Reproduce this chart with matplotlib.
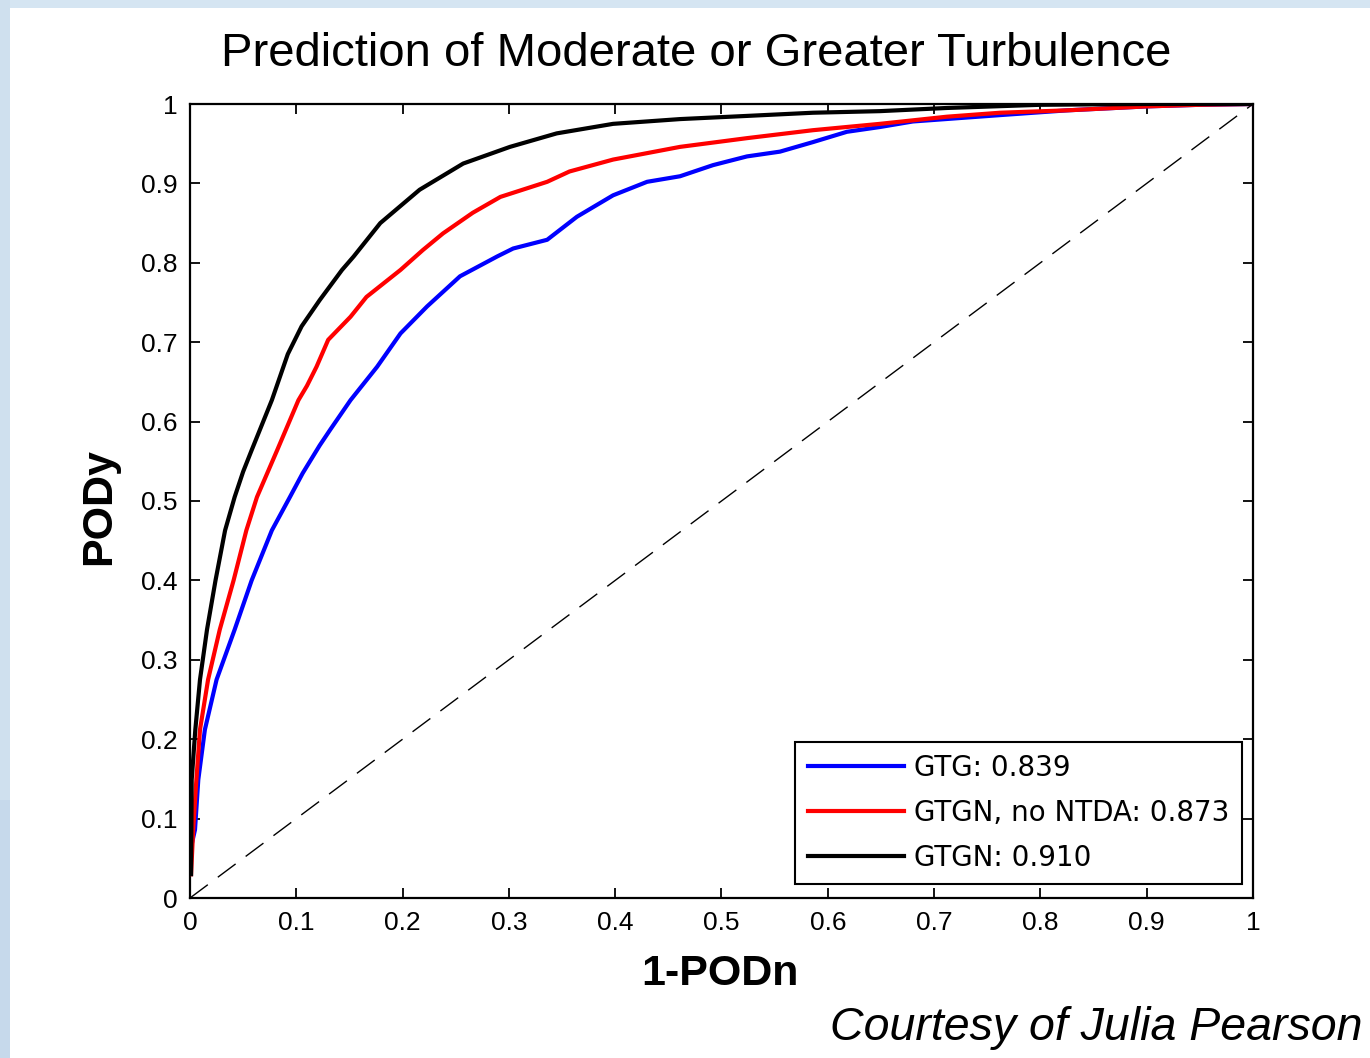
import matplotlib
matplotlib.use("Agg")
import matplotlib.pyplot as plt
from matplotlib.patches import Rectangle

plt.rcParams['font.family'] = ['Liberation Sans', 'DejaVu Sans']

# ---- data ----
gtg_x = [0.002, 0.0047, 0.0078, 0.014, 0.025, 0.042, 0.058, 0.077, 0.094, 0.106,
         0.122, 0.132, 0.151, 0.176, 0.198, 0.223, 0.254, 0.289, 0.304, 0.336,
         0.364, 0.398, 0.43, 0.461, 0.492, 0.524, 0.555, 0.586, 0.618, 0.649,
         0.680, 0.762, 0.825, 0.9, 0.95, 1.0]
gtg_y = [0.07, 0.086, 0.149, 0.212, 0.275, 0.338, 0.4, 0.463, 0.505, 0.535,
         0.57, 0.59, 0.627, 0.669, 0.711, 0.745, 0.783, 0.808, 0.818, 0.829,
         0.858, 0.885, 0.902, 0.909, 0.923, 0.934, 0.940, 0.952, 0.965, 0.971,
         0.978, 0.986, 0.992, 0.997, 0.999, 1.0]

gtgn_nontda_x = [0.001, 0.003, 0.006, 0.0094, 0.017, 0.028, 0.041, 0.053, 0.063, 0.082,
                 0.102, 0.11, 0.119, 0.13, 0.151, 0.166, 0.198, 0.219, 0.238, 0.266,
                 0.292, 0.336, 0.357, 0.398, 0.461, 0.524, 0.586, 0.649, 0.712, 0.762,
                 0.825, 0.9, 0.95, 1.0]
gtgn_nontda_y = [0.03, 0.086, 0.149, 0.212, 0.275, 0.338, 0.4, 0.463, 0.505, 0.564,
                 0.627, 0.645, 0.669, 0.703, 0.732, 0.757, 0.791, 0.816, 0.837, 0.863,
                 0.883, 0.902, 0.915, 0.930, 0.946, 0.957, 0.967, 0.975, 0.984, 0.989,
                 0.992, 0.997, 0.999, 1.0]

gtgn_x = [0.001, 0.0016, 0.005, 0.0094, 0.016, 0.024, 0.033, 0.042, 0.050, 0.058, 0.077,
          0.092, 0.105, 0.122, 0.143, 0.154, 0.179, 0.216, 0.257, 0.301, 0.345,
          0.398, 0.461, 0.524, 0.586, 0.649, 0.712, 0.8, 0.9, 1.0]
gtgn_y = [0.03, 0.149, 0.212, 0.275, 0.338, 0.4, 0.463, 0.505, 0.537, 0.564, 0.627,
          0.685, 0.72, 0.753, 0.791, 0.808, 0.85, 0.892, 0.925, 0.946, 0.963,
          0.975, 0.981, 0.985, 0.989, 0.991, 0.995, 0.999, 1.0, 1.0]

labels = ["GTG: 0.839", "GTGN, no NTDA: 0.873", "GTGN: 0.910"]
tick_vals = [0, 0.1, 0.2, 0.3, 0.4, 0.5, 0.6, 0.7, 0.8, 0.9, 1]
tick_labels = ["0", "0.1", "0.2", "0.3", "0.4", "0.5", "0.6", "0.7", "0.8", "0.9", "1"]

W, H = 1370, 1058
fig = plt.figure(figsize=(W / 100, H / 100), dpi=100)
fig.patch.set_facecolor('white')

# slide background bands
fig.patches.append(Rectangle((0, 1 - 8 / H), 1, 8 / H, transform=fig.transFigure,
                             facecolor='#d5e5f2', edgecolor='none', zorder=0))
fig.patches.append(Rectangle((0, 0), 10 / W, 1, transform=fig.transFigure,
                             facecolor='#cfe0ee', edgecolor='none', zorder=0))
fig.patches.append(Rectangle((0, 0), 10 / W, 1 - 800 / H, transform=fig.transFigure,
                             facecolor='#c6d9eb', edgecolor='none', zorder=0))

ax = fig.add_axes([190 / W, 1 - 898 / H, (1253 - 190) / W, (898 - 104) / H])

ax.plot([0, 1], [0, 1], color='black', lw=1.0, dashes=(16, 9), zorder=2)
ax.plot(gtg_x, gtg_y, color='#0000ff', lw=3.0, label=labels[0], zorder=3)
ax.plot(gtgn_nontda_x, gtgn_nontda_y, color='#ff0000', lw=3.0, label=labels[1], zorder=4)
ax.plot(gtgn_x, gtgn_y, color='black', lw=3.0, label=labels[2], zorder=5)

ax.set_xlim(0, 1)
ax.set_ylim(0, 1)
ax.set_xticks(tick_vals)
ax.set_xticklabels(tick_labels)
ax.set_yticks(tick_vals)
ax.set_yticklabels(tick_labels)
ax.tick_params(direction='in', length=7.5, width=1.3, labelsize=19, top=True, right=True,
               colors='black')
ax.tick_params(axis='x', pad=9)
ax.tick_params(axis='y', pad=9)
for s in ax.spines.values():
    s.set_linewidth(1.6)

leg = ax.legend(loc='lower right', bbox_to_anchor=(0.9897, 0.0176), borderaxespad=0,
                prop={'family': 'DejaVu Sans', 'size': 20},
                handlelength=3.45, handletextpad=0.38, labelspacing=0.6,
                borderpad=0.45, fancybox=False, framealpha=1, edgecolor='black')
leg.get_frame().set_linewidth(1.5)
for line in leg.get_lines():
    line.set_linewidth(3.0)

fig.text(696 / W, 1 - 66 / H, "Prediction of Moderate or Greater Turbulence",
         ha='center', va='baseline', fontsize=34)
fig.text(720 / W, 1 - 985 / H, "1-PODn", ha='center', va='baseline',
         fontsize=31, fontweight='bold')
fig.text(99 / W, 1 - 507 / H, "PODy", ha='center', va='center', rotation=90,
         fontsize=31, fontweight='bold')
fig.text(1362 / W, 1 - 1040 / H, "Courtesy of Julia Pearson", ha='right',
         va='baseline', fontsize=33.5, style='italic')

fig.savefig('out.png', dpi=100)
